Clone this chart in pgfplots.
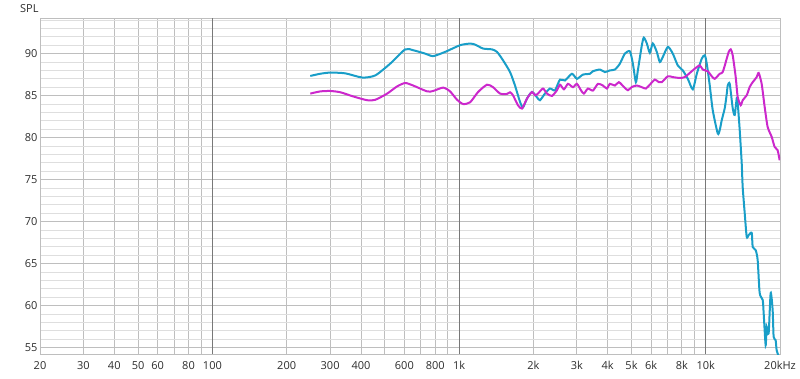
\documentclass[border=0pt]{standalone}
\usepackage{pgfplots}
\pgfplotsset{compat=1.18}
\usepackage{fontspec}
\setmainfont{Open Sans}
\definecolor{cblue}{RGB}{25,158,200}
\definecolor{cmag}{RGB}{204,40,204}
\definecolor{gmaj}{RGB}{190,190,190}
\definecolor{gmin}{RGB}{222,222,222}
\definecolor{gdec}{RGB}{120,120,120}
\definecolor{labgray}{RGB}{45,45,45}
\pgfplotstableread{
f db
249.3 87.34
273.7 87.6
300.4 87.74
345.6 87.65
404.9 87.15
457.0 87.4
525.5 88.8
604.4 90.5
651.3 90.4
728.4 90.0
784.8 89.7
877.7 90.2
1009.4 91.0
1108 91.19
1161 91.07
1251 90.6
1360 90.5
1425 90.2
1507 89.2
1609 87.8
1685 86.2
1766 84.25
1816 83.6
1885 84.65
1975 85.43
2069 84.8
2127 84.45
2229 85.24
2335 85.84
2447 85.64
2564 86.9
2686 86.8
2868 87.6
3004 87.0
3177 87.5
3392 87.6
3487 87.9
3724 88.1
3900 87.8
4087 88.0
4281 88.1
4486 88.8
4700 90.0
4925 90.27
5064 88.8
5207 86.6
5305 88.0
5507 91.0
5610 91.9
5769 91.2
5932 90.1
6100 91.2
6332 90.2
6512 89.0
6697 89.6
7018 90.8
7351 90.0
7700 88.6
8068 88.0
8456 87.0
8859 85.75
9196 87.6
9634 89.4
9909 89.8
10093 88.8
10380 86.2
10674 83.26
11182 80.5
11393 80.9
11607 82.07
11937 83.5
12162 85.2
12275 86.2
12506 86.4
12860 83.5
13102 82.7
13348 84.65
13473 84.1
13728 80.9
13985 77.0
14116 74.1
14386 71.0
14656 68.2
14932 68.4
15355 68.67
15500 67.0
15937 66.6
16236 65.4
16541 61.5
17010 60.7
17169 59.1
17491 55.3
17655 57.5
17987 56.7
18326 61.5
18671 59.5
18846 56.3
19200 55.9
19380 54.7
19744 54.0
}\datablue
\pgfplotstableread{
f db
249.3 85.24
273.7 85.5
300.4 85.55
329.8 85.4
372.3 84.9
424.2 84.45
457.0 84.5
511.0 85.24
561.0 86.1
604.4 86.5
651.3 86.2
742.1 85.5
784.8 85.55
861.5 85.95
919.4 85.5
981.5 84.5
1038 84.0
1108 84.2
1194 85.43
1298 86.3
1373 86.0
1466 85.24
1564 85.2
1609 85.4
1654 85.04
1733 83.85
1799 83.46
1885 84.65
1975 85.43
2031 85.04
2088 85.24
2188 85.84
2271 85.24
2379 84.96
2493 85.64
2564 86.3
2662 85.75
2763 86.4
2894 86.0
3004 86.4
3118 85.64
3207 85.24
3329 85.84
3487 85.6
3655 86.4
3828 86.2
3974 85.84
4087 86.4
4281 86.2
4444 86.6
4656 86.03
4834 85.64
5017 86.03
5256 86.2
5507 86.0
5716 85.84
5932 86.3
6216 86.9
6452 86.6
6635 86.6
7018 87.3
7351 87.2
7845 87.1
8222 87.2
8616 87.7
9026 88.2
9456 88.6
9725 88.1
10188 87.9
10576 87.3
10875 87.0
11393 87.6
11716 87.8
12162 89.4
12390 90.2
12622 90.5
12860 89.8
13225 87.2
13473 84.84
13856 83.85
14116 84.45
14656 85.04
15072 86.03
15500 86.6
16086 87.2
16388 87.7
16852 86.4
17330 83.65
17820 81.27
18498 80.1
19022 78.9
19561 78.5
19929 77.3
}\datamag
\begin{document}
\begin{tikzpicture}[x=1bp,y=1bp]
\path[use as bounding box] (0,0) rectangle (800,378);
\begin{axis}[
  at={(40bp,24bp)}, anchor=south west, scale only axis,
  width=740bp, height=335.7bp,
  xmode=log, xmin=20, xmax=20000, ymin=54.25, ymax=94.2,
  xtick={20,30,40,50,60,70,80,90,100,200,300,400,500,600,700,800,900,1000,2000,3000,4000,5000,6000,7000,8000,9000,10000,20000},
  xticklabels={20,30,40,50,60,,80,,100,200,300,400,,600,,800,,1k,2k,3k,4k,5k,6k,,8k,,10k,20kHz},
  extra x ticks={100,1000,10000},
  extra x tick style={xticklabel={}, major grid style={gdec, line width=0.9bp}},
  ytick={55,60,...,90},
  minor ytick={56,57,58,59,61,62,63,64,66,67,68,69,71,72,73,74,76,77,78,79,81,82,83,84,86,87,88,89,91,92,93,94},
  grid=both,
  major grid style={gmaj, line width=0.8bp},
  minor grid style={gmin, line width=0.8bp},
  major tick length=0pt, minor tick length=0pt,
  axis line style={gmaj, line width=1bp},
  tick label style={font=\fontsize{11bp}{13bp}\selectfont, text=labgray},
  /pgf/number format/assume math mode=true,
  yticklabel style={inner sep=0pt, anchor=east, xshift=-2.3bp},
  xticklabel style={inner sep=0pt, anchor=north, yshift=-7bp},
]
\addplot[cblue, line width=2bp, smooth, tension=0.4] table[x=f,y=db] {\datablue};
\addplot[cmag, line width=2bp, smooth, tension=0.4] table[x=f,y=db] {\datamag};
\end{axis}
\node[anchor=base west, inner sep=0pt, text=labgray, font=\fontsize{11bp}{13bp}\selectfont] at (20,365.7) {SPL};
\end{tikzpicture}
\end{document}
